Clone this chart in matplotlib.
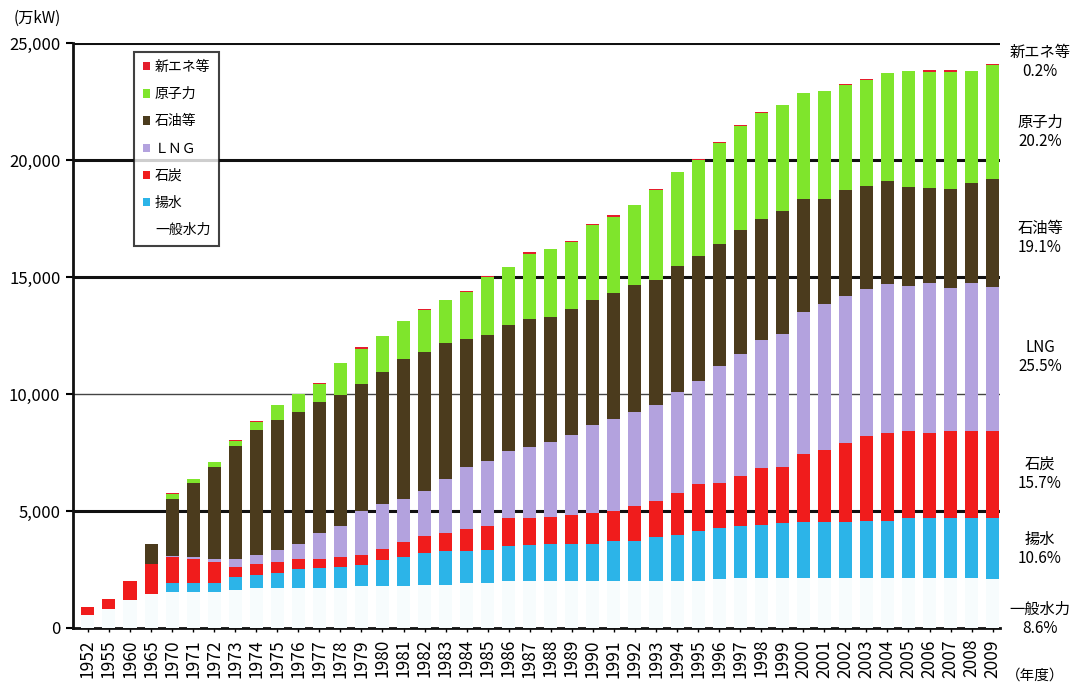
import numpy as np
import matplotlib
matplotlib.use("Agg")
import matplotlib.pyplot as plt
from matplotlib.patches import Patch

plt.rcParams["font.family"] = ["Noto Sans CJK JP", "DejaVu Sans"]

# fiscal years on the x axis
years = ["1952", "1955", "1960", "1965"] + [str(y) for y in range(1970, 2010)]

# generating capacity by source (万kW)
hydro = [560, 810, 1200, 1470,
         1540, 1540, 1550, 1630, 1730, 1730, 1730, 1730, 1730, 1800,
         1800, 1800, 1840, 1840, 1910, 1910, 2010, 2010, 2010, 2010,
         2010, 2020, 2020, 2020, 2020, 2020, 2090, 2150, 2150, 2150,
         2150, 2150, 2150, 2150, 2150, 2150, 2150, 2150, 2150, 2110]
pumped = [0, 0, 0, 0,
          400, 400, 390, 550, 540, 620, 810, 850, 880, 900,
          1100, 1240, 1380, 1460, 1390, 1420, 1500, 1540, 1600, 1600,
          1590, 1710, 1710, 1860, 1970, 2130, 2180, 2190, 2250, 2320,
          2360, 2360, 2360, 2430, 2430, 2570, 2570, 2570, 2570, 2590]
coal = [340, 430, 810, 1260,
        1100, 1020, 860, 430, 480, 490, 430, 390, 430, 420,
        490, 650, 720, 780, 920, 1010, 1170, 1130, 1140, 1230,
        1300, 1290, 1480, 1550, 1760, 2020, 1940, 2140, 2440, 2430,
        2930, 3090, 3400, 3610, 3740, 3700, 3610, 3680, 3700, 3730]
lng = [0, 0, 0, 0,
       50, 80, 140, 330, 360, 490, 610, 1070, 1330, 1890,
       1900, 1840, 1920, 2280, 2670, 2810, 2870, 3070, 3210, 3420,
       3790, 3920, 4040, 4090, 4350, 4400, 4980, 5250, 5450, 5660,
       6080, 6240, 6260, 6300, 6380, 6180, 6400, 6140, 6310, 6140]
oil = [0, 0, 0, 880,
       2420, 3140, 3920, 4850, 5350, 5560, 5640, 5600, 5590, 5420,
       5640, 5970, 5920, 5830, 5470, 5380, 5410, 5460, 5320, 5380,
       5340, 5360, 5390, 5350, 5390, 5320, 5210, 5280, 5180, 5260,
       4820, 4500, 4530, 4390, 4400, 4240, 4080, 4230, 4290, 4600]
nuclear = [0, 0, 0, 0,
           210, 190, 240, 210, 330, 640, 780, 790, 1350, 1500,
           1570, 1600, 1790, 1840, 1990, 2460, 2460, 2780, 2900, 2850,
           3190, 3270, 3420, 3850, 4010, 4090, 4320, 4440, 4530, 4530,
           4540, 4600, 4500, 4520, 4600, 4960, 4970, 5010, 4780, 4880]
new_energy = [0, 0, 0, 0,
              40, 0, 0, 40, 60, 0, 0, 60, 0, 60,
              0, 0, 60, 0, 60, 60, 0, 60, 0, 60,
              50, 60, 0, 60, 0, 60, 60, 60, 60, 0,
              0, 0, 60, 60, 0, 0, 60, 60, 0, 70]

series = [
    ("一般水力", hydro, "#f7fcfd"),
    ("揚水", pumped, "#2cb4e8"),
    ("石炭", coal, "#f01c1c"),
    ("ＬＮＧ", lng, "#b3a2de"),
    ("石油等", oil, "#4b3b1d"),
    ("原子力", nuclear, "#7fe52c"),
    ("新エネ等", new_energy, "#e41e2c"),
]

share_labels = ["新エネ等\n0.2%", "原子力\n20.2%", "石油等\n19.1%", "LNG\n25.5%",
                "石炭\n15.7%", "揚水\n10.6%", "一般水力\n8.6%"]
share_y = [62, 132, 238, 357, 474, 549, 619]  # pixel rows of the right-hand notes

fig = plt.figure(figsize=(10.75, 6.84), dpi=100)
ax = fig.add_axes([73 / 1075, 1 - 628 / 684, 927 / 1075, 585 / 684])

x = np.arange(len(years))
bottom = np.zeros(len(years))
for name, vals, color in series:
    vals = np.array(vals, dtype=float)
    ax.bar(x, vals, bottom=bottom, width=0.62, color=color, edgecolor="none", zorder=3)
    bottom += vals

# horizontal reference lines, 10,000 is drawn thinner
for yv in [5000, 15000, 20000, 25000]:
    ax.axhline(yv, color="#111111", lw=2.2, zorder=1)
ax.axhline(10000, color="#444444", lw=1.0, zorder=1)

ax.set_xlim(-0.71, 43.35)
ax.set_ylim(0, 25000)
ax.set_yticks([0, 5000, 10000, 15000, 20000, 25000])
ax.set_yticklabels(["0", "5,000", "10,000", "15,000", "20,000", "25,000"], fontsize=12)
ax.set_xticks(x)
ax.set_xticklabels(years, rotation=90, fontsize=12.5)
ax.tick_params(axis="y", direction="out", length=5, width=1.5, pad=4)
ax.tick_params(axis="x", direction="out", length=3, width=1.0, pad=5)

for side in ["top", "right"]:
    ax.spines[side].set_visible(False)
ax.spines["left"].set_linewidth(2.0)
ax.spines["bottom"].set_linewidth(2.0)
ax.spines["left"].set_color("#111111")
ax.spines["bottom"].set_color("#111111")

fig.text(14 / 1075, 1 - 18 / 684, "(万kW)", fontsize=11, va="center", ha="left")
fig.text(1035 / 1075, 1 - 676 / 684, "（年度）", fontsize=10.5, va="center", ha="center")

for label, py in zip(share_labels, share_y):
    fig.text(1040 / 1075, 1 - py / 684, label, fontsize=11, ha="center", va="center",
             linespacing=1.2)

# legend, top entry first as in the source
handles = []
for name, vals, color in reversed(series):
    if name == "一般水力":
        handles.append(Patch(facecolor="white", edgecolor="none", label=name))
    else:
        handles.append(Patch(facecolor=color, edgecolor="none", label=name))
leg = ax.legend(handles=handles, loc="upper left", bbox_to_anchor=(0.066, 0.985),
                fontsize=10, frameon=True, fancybox=False, edgecolor="#111111",
                handlelength=0.55, handleheight=0.55, handletextpad=0.35,
                labelspacing=0.95, borderpad=0.6, borderaxespad=0)
leg.get_frame().set_linewidth(1.5)
leg.set_zorder(5)

plt.savefig("out.png", dpi=100, facecolor="white")
plt.close(fig)
